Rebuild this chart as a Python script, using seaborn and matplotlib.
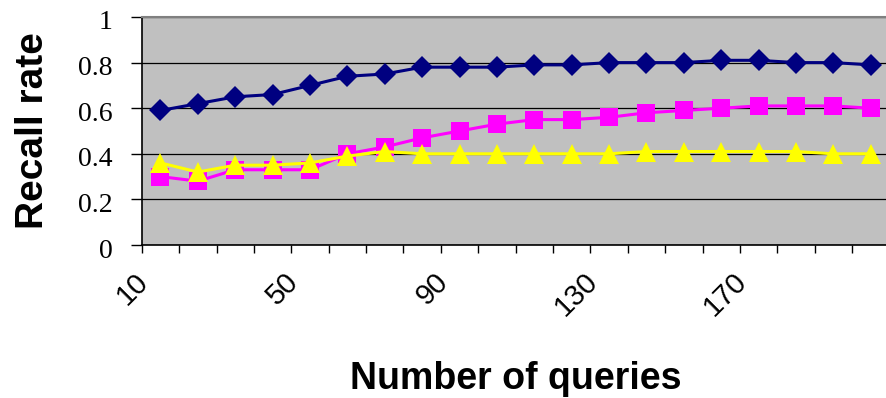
import pandas as pd
import matplotlib
matplotlib.use("Agg")
import matplotlib.pyplot as plt
from matplotlib.ticker import FuncFormatter
from matplotlib.transforms import ScaledTranslation
import seaborn as sns

queries = list(range(10, 201, 10))
recall_diamond = [0.59, 0.62, 0.65, 0.66, 0.70, 0.74, 0.75, 0.78, 0.78, 0.78,
                  0.79, 0.79, 0.80, 0.80, 0.80, 0.81, 0.81, 0.80, 0.80, 0.79]
recall_square = [0.30, 0.28, 0.33, 0.33, 0.33, 0.40, 0.43, 0.47, 0.50, 0.53,
                 0.55, 0.55, 0.56, 0.58, 0.59, 0.60, 0.61, 0.61, 0.61, 0.60]
recall_triangle = [0.36, 0.32, 0.35, 0.35, 0.36, 0.39, 0.41, 0.40, 0.40, 0.40,
                   0.40, 0.40, 0.40, 0.41, 0.41, 0.41, 0.41, 0.41, 0.40, 0.40]
tick_queries = [10, 50, 90, 130, 170]
y_ticks = [0, 0.2, 0.4, 0.6, 0.8, 1.0]

series = [
    ("diamond", recall_diamond, "#000080", "D", 11.5),
    ("square", recall_square, "#FF00FF", "s", 12.5),
    ("triangle", recall_triangle, "#FFFF00", "^", 14.5),
]

sns.set_style("white")
plt.rcParams['font.family'] = ['Liberation Sans', 'DejaVu Sans']
for key in ["text.color", "axes.labelcolor", "xtick.color", "ytick.color"]:
    plt.rcParams[key] = "black"

fig = plt.figure(figsize=(8.86, 3.98), dpi=100)
# plot area runs a little past the right edge of the picture, like the original
ax = fig.add_axes([141.8 / 886, 153 / 398, 747.6 / 886, 228 / 398])
ax.set_facecolor("#C0C0C0")

for name, values, color, marker, msize in series:
    df = pd.DataFrame({"queries": queries, "recall": values})
    sns.lineplot(data=df, x="queries", y="recall", color=color, marker=marker,
                 markersize=msize, markeredgewidth=0, linewidth=2.2, ax=ax,
                 legend=False)

ax.set_xlim(queries[0] - 5, queries[-1] + 5)
ax.set_ylim(0, 1)

ax.set_yticks(y_ticks)
ax.yaxis.set_major_formatter(FuncFormatter(lambda v, p: f"{v:g}"))
ax.grid(axis="y", color="black", linewidth=0.9)
ax.set_axisbelow(True)

ax.set_xticks(tick_queries)
ax.set_xticks([q - 5 for q in queries] + [queries[-1] + 5], minor=True)
ax.tick_params(axis="x", which="major", length=0, pad=16, labelsize=21)
ax.tick_params(axis="x", which="minor", length=6, width=1, color="black",
               direction="out", bottom=True)
ax.tick_params(axis="y", length=8, width=1, color="black", direction="out",
               left=True, pad=13)

shift_x = ScaledTranslation(-26 / 100, 0, fig.dpi_scale_trans)
for lab in ax.get_xticklabels():
    lab.set_rotation(45)
    lab.set_ha("right")
    lab.set_va("top")
    lab.set_rotation_mode("anchor")
    lab.set_transform(lab.get_transform() + shift_x)

shift_y = ScaledTranslation(0, -3 / 100, fig.dpi_scale_trans)
for lab in ax.get_yticklabels():
    lab.set_fontfamily(["Liberation Serif", "DejaVu Serif"])
    lab.set_fontsize(20)
    lab.set_transform(lab.get_transform() + shift_y)

for side in ["left", "bottom"]:
    ax.spines[side].set_color("black")
    ax.spines[side].set_linewidth(1.2)
ax.spines["top"].set_color("#808080")
ax.spines["top"].set_linewidth(1.5)
ax.spines["right"].set_color("#808080")

ax.set_xlabel("Number of queries", fontsize=27, fontweight="bold")
ax.set_ylabel("Recall rate", fontsize=28, fontweight="bold")
ax.xaxis.set_label_coords(0.5, -0.51)
ax.yaxis.set_label_coords(-0.1215, 0.5)

fig.savefig("out.png", dpi=100)
